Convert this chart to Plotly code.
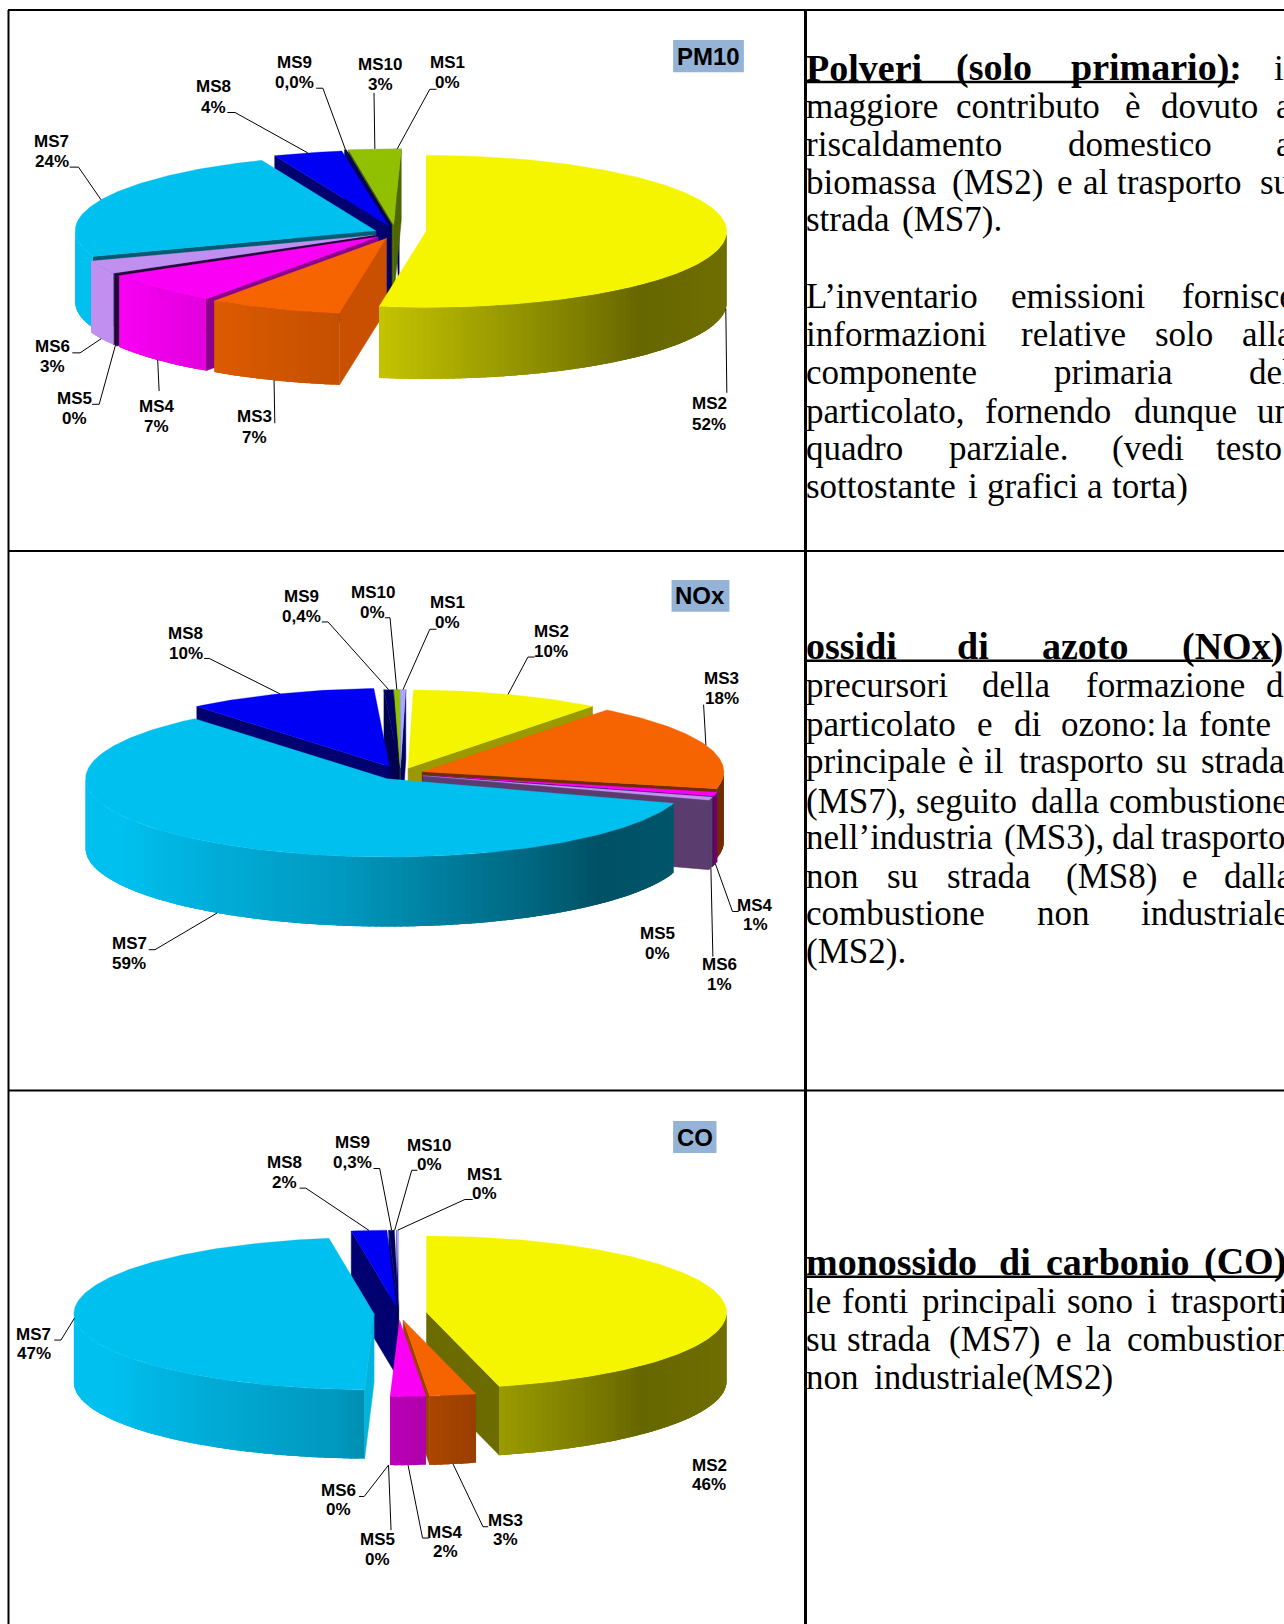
import math
import plotly.graph_objects as go

SERIES = ["MS1", "MS2", "MS3", "MS4", "MS5", "MS6", "MS7", "MS8", "MS9", "MS10"]

# shares (the printed labels are rounded)
PM10_VALUES = [0.2, 52.5, 7.2, 6.8, 0.2, 2.8, 24.3, 3.7, 0.1, 2.8]
NOX_VALUES = [0.3, 10.2, 18.0, 0.9, 0.05, 0.65, 58.9, 10.2, 0.5, 0.3]
CO_VALUES = [0.1, 46.1, 2.5, 1.9, 0.0, 0.0, 47.1, 1.9, 0.3, 0.0]

PM10_LABELS = ["0%", "52%", "7%", "7%", "0%", "3%", "24%", "4%", "0,0%", "3%"]
NOX_LABELS = ["0%", "10%", "18%", "1%", "0%", "1%", "59%", "10%", "0,4%", "0%"]
CO_LABELS = ["0%", "46%", "3%", "2%", "0%", "0%", "47%", "2%", "0,3%", "0%"]

TOP_COLOR = dict(MS1="#a8a8ff", MS2="#f5f500", MS3="#f56400", MS4="#fa00f5", MS5="#200040",
                 MS6="#c090f0", MS7="#00c0f0", MS8="#0000f5", MS9="#000060", MS10="#90c000")
WALL_COLOR = dict(MS1="#000060", MS2="#6b6b00", MS3="#c85000", MS4="#8b008b", MS5="#200030",
                  MS6="#5a3d6e", MS7="#005a70", MS8="#000070", MS9="#000050", MS10="#4c6600")

# rim shading as a function of the angle round the pie
SHADE_STOPS = [(90, .46), (135, .42), (166, .63), (189, .80), (240, 1.0), (270, 1.0)]

PANELS = [
    dict(name="PM10", values=PM10_VALUES, labels=PM10_LABELS, rot=-0.72,
         y0=0, h=560, c=(765, 652), rx=582, ry=213, depth=200, expl=45,
         expl_over={"MS2": 60, "MS7": 41}, wall_over={}, last=["MS2"],
         nudge={"MS2": (0, -6), "MS10": (0, -6), "MS9": (0, -6), "MS1": (8, -6), "MS8": (0, -3)},
         badge=(1303, 112, 1440, 202),
         text=dict(MS1=(867, 203), MS2=(1373, 1159), MS3=(492, 1196), MS4=(303, 1167), MS5=(145, 1144),
                   MS6=(102, 998), MS7=(100, 425), MS8=(414, 272), MS9=(571, 203), MS10=(736, 208)),
         lead=dict(MS1=([(845, 250), (832, 250)], "top"), MS2=([(1407, 1100)], "bot"),
                   MS3=([(532, 1185)], "bot"), MS4=([(308, 1095)], "bot"),
                   MS5=([(178, 1132), (192, 1132)], "bot"), MS6=([(140, 988), (155, 988)], "bot"),
                   MS7=([(135, 468), (152, 468)], "top"), MS8=([(440, 315), (455, 315)], "top"),
                   MS9=([(612, 247), (625, 247)], "top"), MS10=([(724, 260)], "top"))),
    dict(name="NOx", values=NOX_VALUES, labels=NOX_LABELS, rot=-0.08,
         y0=550, h=545, c=(775, 644), rx=584, ry=225, depth=200, expl=45,
         expl_over={"MS8": 58}, wall_over={"MS2": "#9a9a00", "MS3": "#6e2d00"}, last=[], nudge={},
         badge=(1300, 86, 1412, 178),
         text=dict(MS1=(866, 180), MS2=(1067, 263), MS3=(1397, 399), MS4=(1462, 1050), MS5=(1272, 1131),
                   MS6=(1392, 1222), MS7=(250, 1160), MS8=(360, 268), MS9=(583, 162), MS10=(722, 151)),
         lead=dict(MS1=([(845, 228), (832, 228)], "top"), MS2=([(1035, 308), (1022, 308)], "top"),
                   MS3=([(1362, 445)], "top"), MS4=([(1430, 1040), (1418, 1040)], "bot"),
                   MS6=([(1380, 1170)], "bot"), MS7=([(288, 1150), (300, 1150)], "bot"),
                   MS8=([(395, 312), (405, 312)], "top"), MS9=([(623, 207), (635, 207)], "top"),
                   MS10=([(745, 195), (755, 195)], "top"))),
    dict(name="CO", values=CO_VALUES, labels=CO_LABELS, rot=-0.36,
         y0=1085, h=539, c=(772, 664), rx=581, ry=222, depth=200, expl=52,
         expl_over={"MS7": 48, "MS2": 54}, wall_over={"MS7": "#00b4dc", "MS3": "#a04000"}, last=[], nudge={},
         badge=(1303, 105, 1387, 198),
         text=dict(MS1=(937, 288), MS2=(1373, 1135), MS3=(979, 1295), MS4=(862, 1329), MS5=(730, 1352),
                   MS6=(656, 1207), MS7=(65, 754), MS8=(551, 254), MS9=(682, 197), MS10=(831, 204)),
         lead=dict(MS1=([(915, 333), (900, 333)], "top"), MS3=([(945, 1285), (935, 1285)], "bot"),
                   MS4=([(830, 1318), (818, 1318)], "bot"), MS5=([(757, 1295)], "bot"),
                   MS6=([(695, 1197), (705, 1197)], "bot"), MS7=([(105, 742), (118, 742)], "top"),
                   MS8=([(580, 300), (592, 300)], "top"), MS9=([(723, 243), (735, 243)], "top"),
                   MS10=([(808, 248), (797, 248)], "top"))),
]

# right-hand column: (baseline, bold, [(word, left x), ...])
def zx(v):
    return 798 + v / 3

TEXT_LINES = [
    (80.8, True, [("Polveri", 22), ("(solo", 470), ("primario):", 815)]),
    (80.8, False, [("il", 1425)]),
    (118.8, False, [("maggiore", 22), ("contributo", 472), ("è", 978), ("dovuto", 1085), ("al", 1430)]),
    (156.5, False, [("riscaldamento", 22), ("domestico", 808), ("a", 1430)]),
    (194.2, False, [("biomassa", 22), ("(MS2)", 458), ("e", 775), ("al", 852), ("trasporto", 955), ("su", 1383)]),
    (231.5, False, [("strada", 22), ("(MS7).", 310)]),
    (308.2, False, [("L’inventario", 22), ("emissioni", 637), ("fornisce", 1148)]),
    (346.5, False, [("informazioni", 22), ("relative", 665), ("solo", 1068), ("alla", 1330)]),
    (384.5, False, [("componente", 22), ("primaria", 765), ("del", 1350)]),
    (423.2, False, [("particolato,", 22), ("fornendo", 558), ("dunque", 1005), ("un", 1375)]),
    (460.5, False, [("quadro", 22), ("parziale.", 450), ("(vedi", 938), ("testo", 1250)]),
    (498.2, False, [("sottostante", 22), ("i", 507), ("grafici", 565), ("a", 865), ("torta)", 940)]),
    (659.2, True, [("ossidi", 22), ("di", 475), ("azoto", 728), ("(NOx):", 1150)]),
    (697.5, False, [("precursori", 22), ("della", 548), ("formazione", 860), ("di", 1400)]),
    (736.5, False, [("particolato", 22), ("e", 535), ("di", 645), ("ozono:", 785), ("la", 1090), ("fonte", 1200)]),
    (773.2, False, [("principale", 22), ("è", 478), ("il", 555), ("trasporto", 660), ("su", 1070), ("strada", 1205)]),
    (813.2, False, [("(MS7),", 22), ("seguito", 350), ("dalla", 695), ("combustione", 930)]),
    (849.5, False, [("nell’industria", 22), ("(MS3),", 615), ("dal", 940), ("trasporto", 1085)]),
    (888.2, False, [("non", 22), ("su", 265), ("strada", 445), ("(MS8)", 800), ("e", 1150), ("dalla", 1275)]),
    (925.5, False, [("combustione", 22), ("non", 715), ("industriale", 1025)]),
    (963.2, False, [("(MS2).", 22)]),
    (1274.8, True, [("monossido", 22), ("di", 600), ("carbonio", 740), ("(CO):", 1215)]),
    (1313.2, False, [("le", 22), ("fonti", 130), ("principali", 370), ("sono", 805), ("i", 1045), ("trasporti", 1115)]),
    (1351.5, False, [("su", 22), ("strada", 145), ("(MS7)", 450), ("e", 770), ("la", 860), ("combustione", 985)]),
    (1389, False, [("non", 22), ("industriale(MS2)", 225)]),
]
UNDERLINES = [(82, 1235), (660.7, 1273), (1276.7, 1280)]

BLACK = "#000000"
SX = 810 / 1568


def shade_at(t):
    t = max(90, min(270, t))
    for (a, va), (b, vb) in zip(SHADE_STOPS, SHADE_STOPS[1:]):
        if a <= t <= b:
            return va + (vb - va) * (t - a) / (b - a)
    return 1.0


def scaled(hex_color, k):
    r, g, b = (int(hex_color[i:i + 2], 16) for i in (1, 3, 5))
    return f"rgb({round(r * k)},{round(g * k)},{round(b * k)})"


fig = go.Figure()
annotations = []
shapes = []


def poly(pts, color, lw=0.0):
    xs = [p[0] for p in pts] + [pts[0][0]]
    ys = [p[1] for p in pts] + [pts[0][1]]
    fig.add_trace(go.Scatter(x=xs, y=ys, mode="lines", fill="toself", fillcolor=color,
                             line=dict(color=color, width=lw), hoverinfo="skip", showlegend=False))


def draw_panel(p):
    sy = p["h"] / 1568
    to_page = lambda x, y: (x * SX, p["y0"] + y * sy)
    cx, cy = p["c"]
    rx, ry, depth = p["rx"], p["ry"], p["depth"]
    k = ry / rx
    slices = {}
    a = p["rot"]
    for name, v in zip(SERIES, p["values"]):
        s, e = a, a + v * 3.6
        a = e
        mid = (s + e) / 2
        ex = p["expl_over"].get(name, p["expl"])
        nx, ny = p["nudge"].get(name, (0, 0))
        ax = cx + ex * math.sin(math.radians(mid)) + nx
        ay = cy - ex * k * math.cos(math.radians(mid)) + ny
        slices[name] = dict(s=s, e=e, mid=mid, ax=ax, ay=ay, v=v)

    def rim(sl, t, level=0):
        return (sl["ax"] + rx * math.sin(math.radians(t)),
                sl["ay"] - ry * math.cos(math.radians(t)) + level)

    order = sorted(SERIES, key=lambda n: (n in p["last"], -math.cos(math.radians(slices[n]["mid"]))))
    for name in order:
        sl = slices[name]
        if sl["v"] <= 0:
            continue
        base = TOP_COLOR[name]
        wall = p["wall_over"].get(name, WALL_COLOR[name])
        apex = (sl["ax"], sl["ay"])
        apex_low = (sl["ax"], sl["ay"] + depth)
        # only the walls that face the viewer are drawn
        walls = []
        if math.sin(math.radians(sl["s"])) < -1e-6:
            walls.append(sl["s"])
        if math.sin(math.radians(sl["e"])) > 1e-6:
            walls.append(sl["e"])
        for t in walls:
            pts = [apex, rim(sl, t), rim(sl, t, depth), apex_low]
            poly([to_page(*q) for q in pts], wall, 0.5)
        lo, hi = max(sl["s"], 90), min(sl["e"], 270)
        if hi > lo:
            n = max(1, int((hi - lo) / 1.2))
            step = (hi - lo) / n
            # each band runs on under the next one, so no seam shows between them
            for i in range(n):
                t0 = lo + step * i
                t1 = min(hi, t0 + 2.5 * step)
                m = 8
                upper = [rim(sl, t0 + (t1 - t0) * j / m) for j in range(m + 1)]
                lower = [rim(sl, t1 - (t1 - t0) * j / m, depth) for j in range(m + 1)]
                poly([to_page(*q) for q in upper + lower], scaled(base, shade_at(t0 + step / 2)), 0)
        n = max(2, int(sl["e"] - sl["s"]) + 1)
        arc = [rim(sl, sl["s"] + (sl["e"] - sl["s"]) * i / n) for i in range(n + 1)]
        poly([to_page(*q) for q in [apex] + arc], base, 0.3)

    # leader lines run from the label stub to the rim at the slice's mid-angle
    for name, (stub, level) in p["lead"].items():
        sl = slices[name]
        end = rim(sl, sl["mid"], depth if level == "bot" else 0)
        pts = [to_page(*q) for q in stub + [end]]
        fig.add_trace(go.Scatter(x=[q[0] for q in pts], y=[q[1] for q in pts], mode="lines",
                                 line=dict(color=BLACK, width=1), hoverinfo="skip", showlegend=False))

    # slice labels, two lines each
    for name, lab in zip(SERIES, p["labels"]):
        tx, ty = p["text"][name]
        for dy, txt in ((-28.5, name), (28.5, lab)):
            x, y = to_page(tx, ty + dy)
            annotations.append(dict(x=x, y=y, text=txt, showarrow=False, xanchor="center", yanchor="middle",
                                    borderpad=0,
                                    font=dict(family="Liberation Sans", size=17, color=BLACK, weight="bold")))

    x0, y0 = to_page(p["badge"][0], p["badge"][1])
    x1, y1 = to_page(p["badge"][2], p["badge"][3])
    shapes.append(dict(type="rect", x0=x0, y0=y0, x1=x1, y1=y1, fillcolor="#95b3d7", line=dict(width=0),
                       layer="below"))
    annotations.append(dict(x=(x0 + x1) / 2, y=(y0 + y1) / 2, text=p["name"], showarrow=False,
                            xanchor="center", yanchor="middle", borderpad=0,
                            font=dict(family="Liberation Sans", size=24, color=BLACK, weight="bold")))


for panel in PANELS:
    draw_panel(panel)

for baseline, bold, words in TEXT_LINES:
    size = 38 if bold else 35
    for word, zl in words:
        annotations.append(dict(x=zx(zl), y=baseline - 0.3375 * size, text=word, showarrow=False,
                                xanchor="left", yanchor="middle", borderpad=0,
                                font=dict(family="Liberation Serif", size=size, color=BLACK,
                                          weight="bold" if bold else "normal")))

for y, xr in UNDERLINES:
    shapes.append(dict(type="line", x0=805, x1=xr, y0=y, y1=y, line=dict(color=BLACK, width=2.5)))

# table frame
for x, w in ((8.5, 2), (805.5, 3)):
    shapes.append(dict(type="line", x0=x, x1=x, y0=10, y1=1624, line=dict(color=BLACK, width=w)))
for y in (10, 551, 1090.5):
    shapes.append(dict(type="line", x0=8, x1=1284, y0=y, y1=y, line=dict(color=BLACK, width=2)))

fig.update_layout(
    width=1284, height=1624, margin=dict(l=0, r=0, t=0, b=0),
    paper_bgcolor="#ffffff", plot_bgcolor="#ffffff", showlegend=False,
    xaxis=dict(range=[0, 1284], visible=False, fixedrange=True),
    yaxis=dict(range=[1624, 0], visible=False, fixedrange=True),
    annotations=annotations, shapes=shapes,
)
fig.write_html("out.html", config={"displayModeBar": False},
               post_script="document.body.style.margin='0';document.body.style.overflow='hidden';")
